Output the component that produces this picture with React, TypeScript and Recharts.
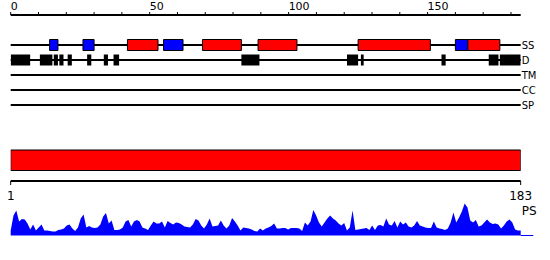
import React from 'react';
import { ComposedChart, BarChart, Bar, Cell, XAxis, YAxis, CartesianGrid, ReferenceLine, Area } from 'recharts';

const seqLength = 183;
const topTicks = [0, 10, 20, 30, 40, 50, 60, 70, 80, 90, 100, 110, 120, 130, 140, 150, 160, 170, 180];
const topLabels = [0, 50, 100, 150];
const trackRows = ['SS', 'D', 'TM', 'CC', 'SP'];
const helices: [number, number][] = [[42, 53], [69, 83], [89, 103], [125, 151], [164.5, 176]];
const strands: [number, number][] = [[14, 17], [26, 30], [55, 62], [160, 164.5]];
const disorder: [number, number][] = [
  [0, 7], [10.5, 15], [15.5, 17], [17.5, 19], [20.5, 22], [27.5, 29], [33.5, 35], [37, 39],
  [83, 89.5], [121, 125], [126, 127], [155, 156.5], [172, 175.5], [176, 183.5],
];
const domains: [number, number][] = [[1, 183]];
const bottomTicks = [1, 183];
const psValues = [
  5, 20, 25, 14, 16.5, 16, 12, 6, 11, 5,
  8, 11, 5, 5, 4.5, 4, 4, 5.5, 6, 7,
  10, 11, 7, 4.5, 8, 17, 21, 8, 9.5, 8,
  7.5, 8, 11, 19, 22.5, 12, 15, 5.5, 5.5, 6,
  8, 14, 15.5, 9, 14, 15.5, 14, 8, 7, 5.5,
  10, 14, 12, 12, 14, 8, 14.5, 12.5, 11, 13,
  12.5, 11, 9, 8.5, 8, 11, 16.5, 15, 10, 7,
  11, 17, 9, 9.5, 10, 15, 10, 7, 10, 17.5,
  14, 10, 5, 8, 7.5, 7, 6, 4.5, 4, 7,
  5, 7, 8, 9.5, 12, 7, 7, 7.5, 7.5, 6,
  7.5, 7.5, 7.5, 7, 4.5, 13, 10, 14, 25.5, 20,
  13, 9, 13, 17, 20, 17, 15, 12, 10, 12.5,
  5, 8, 25, 5.5, 6, 6.5, 7, 7.5, 5.5, 10,
  5.5, 10, 10.5, 9, 17, 11, 10, 14.5, 8, 14,
  11, 13, 9, 8, 10, 14.5, 10, 9, 8, 7.5,
  7.5, 14, 8, 7, 6.5, 5.5, 7, 13, 23, 13,
  18, 24, 32, 28, 15, 13, 15.5, 9, 10, 13,
  16, 13, 11.5, 12, 11, 7, 10, 14, 16, 13,
  6, 5, 5,
];

const COLORS = { helix: '#ff0000', strand: '#0000ff', disorder: '#000000', domain: '#ff0000' };

// row index on the numeric track axis (SS = 2, D = 3, TM = 4, CC = 5, SP = 6)
const rowIndex = (name: string) => trackRows.indexOf(name) + 2;
const rowTicks = trackRows.map((r) => rowIndex(r));

type Feat = { row: number; range: [number, number]; kind: 'helix' | 'strand' | 'disorder' };
const featureData: Feat[] = [
  ...strands.map((r) => ({ row: rowIndex('SS'), range: r, kind: 'strand' as const })),
  ...helices.map((r) => ({ row: rowIndex('SS'), range: r, kind: 'helix' as const })),
  ...disorder.map((r) => ({ row: rowIndex('D'), range: r, kind: 'disorder' as const })),
];
const domainData = domains.map((r) => ({ name: 'domain', range: r }));
const psData = psValues.map((ps, i) => ({ pos: i + 1, ps }));

const FONT = '"DejaVu Sans", sans-serif';

const TopTick = (props: any) => {
  const { x, y, payload } = props;
  if (!topLabels.includes(payload.value)) return <g />;
  return (
    <text x={x} y={y} textAnchor="start" fontSize={11} fill="#000" fontFamily={FONT}>
      {payload.value}
    </text>
  );
};

const BottomTick = (props: any) => {
  const { x, y, payload } = props;
  return (
    <text x={x} y={y + 13} textAnchor="middle" fontSize={12} fill="#000" fontFamily={FONT}>
      {payload.value}
    </text>
  );
};

export default function App() {
  return (
    <div style={{ position: 'absolute', left: 0, top: 0, width: 550, height: 260, background: '#fff', fontFamily: FONT }}>
      <div style={{ position: 'absolute', left: 0, top: 0 }}>
        <BarChart layout="vertical" width={550} height={120} data={featureData} margin={{ top: 0, right: 0, bottom: 0, left: 10.7 }}>
          <CartesianGrid vertical={false} horizontal syncWithTicks stroke="#000" strokeWidth={2} />
          <XAxis
            type="number"
            orientation="top"
            dataKey="range"
            domain={[0, 183.5]}
            ticks={topTicks}
            interval={0}
            height={15}
            tickSize={3}
            tickMargin={2}
            axisLine={{ stroke: '#000', strokeWidth: 2 }}
            tickLine={{ stroke: '#000' }}
            tick={TopTick}
            allowDataOverflow
          />
          <YAxis
            type="number"
            dataKey="row"
            orientation="right"
            domain={[0, 7]}
            ticks={rowTicks}
            interval={0}
            tickFormatter={(v: number) => trackRows[v - 2]}
            width={29.3}
            axisLine={false}
            tickLine={false}
            tickSize={0}
            tickMargin={1}
            tick={{ fontSize: 10, fill: '#000' }}
            allowDataOverflow
          />
          <Bar dataKey="range" barSize={11} isAnimationActive={false}>
            {featureData.map((f, i) => (
              <Cell
                key={i}
                fill={COLORS[f.kind]}
                stroke={f.kind === 'disorder' ? 'none' : '#000'}
                strokeWidth={1}
              />
            ))}
          </Bar>
        </BarChart>
      </div>

      <div style={{ position: 'absolute', left: 0, top: 140 }}>
        <BarChart layout="vertical" width={550} height={70} data={domainData} margin={{ top: 0, right: 29.3, bottom: 0, left: 10.7 }}>
          <XAxis
            type="number"
            dataKey="range"
            domain={[1, seqLength]}
            ticks={bottomTicks}
            interval={0}
            height={29}
            tickSize={4}
            axisLine={{ stroke: '#000', strokeWidth: 2 }}
            tickLine={{ stroke: '#000' }}
            tick={BottomTick}
            allowDataOverflow
          />
          <YAxis type="category" dataKey="name" hide />
          <Bar dataKey="range" barSize={20.5} fill={COLORS.domain} stroke="#000" strokeWidth={1} isAnimationActive={false} />
        </BarChart>
      </div>

      <div style={{ position: 'absolute', left: 0, top: 195 }}>
        <ComposedChart width={550} height={45} data={psData} margin={{ top: 5, right: 0, bottom: 4.5, left: 10.7 }}>
          <XAxis xAxisId="p" type="number" dataKey="pos" domain={[1, seqLength]} hide />
          <YAxis
            yAxisId="p"
            type="number"
            orientation="right"
            domain={[0, 35.5]}
            ticks={[25]}
            interval={0}
            tickFormatter={() => 'PS'}
            width={29.3}
            axisLine={false}
            tickLine={false}
            tickSize={0}
            tickMargin={1}
            tick={{ fontSize: 12, fill: '#000' }}
          />
          <Area
            xAxisId="p"
            yAxisId="p"
            type="linear"
            dataKey="ps"
            fill="#0000ff"
            fillOpacity={1}
            stroke="none"
            baseValue={0}
            isAnimationActive={false}
            dot={false}
            activeDot={false}
          />
          <ReferenceLine
            xAxisId="p"
            yAxisId="p"
            segment={[{ x: seqLength, y: 0 }, { x: 187.5, y: 0 }]}
            stroke="#0000ff"
            strokeWidth={1}
            ifOverflow="visible"
          />
        </ComposedChart>
      </div>
    </div>
  );
}
